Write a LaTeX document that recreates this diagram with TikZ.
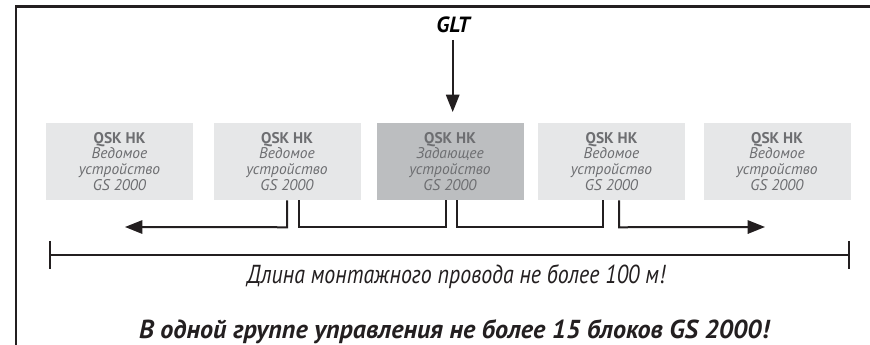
\documentclass[tikz,border=0pt]{standalone}
\usepackage{fontspec}
\usepackage{graphicx}
\setmainfont{PT Sans}
\usetikzlibrary{arrows.meta,calc}
\definecolor{framec}{HTML}{231F20}
\definecolor{slavefill}{HTML}{E6E7E8}
\definecolor{masterfill}{HTML}{BCBEC0}
\definecolor{boxtext}{HTML}{6D6E71}
\newcommand\myfitw[2]{\sbox0{#2}\pgfmathsetmacro\myfac{#1/\the\wd0}\scalebox{\myfac}[1]{\usebox0}}
\tikzset{
  unitbox/.style={minimum width=110.25pt, minimum height=57.75pt, inner sep=0pt,
    align=center, text=boxtext, font=\fontsize{11.6}{11.9}\selectfont},
  slave/.style={unitbox, fill=slavefill},
  master/.style={unitbox, fill=masterfill},
  wire/.style={line width=1.5pt, draw=framec},
  arr/.style={wire, -{Triangle[length=13pt,width=10pt]}},
  framel/.style={line width=1.8pt, draw=framec}
}
\begin{document}
\begin{tikzpicture}[x=0.75pt,y=-0.75pt]
\useasboundingbox (0,0) rectangle (870,345);
% frame
\coordinate (ftr) at (870,6.5);
\coordinate (ftl) at (15.8,6.5);
\coordinate (fbl) at (15.8,345);
\draw[framel] (ftr) -- (ftl) -- (fbl);
% boxes
\node[slave]  (b1) at (119.5,161.5) {\textbf{QSK HK}\\\textit{Ведомое}\\\textit{устройство}\\\textit{GS 2000}};
\node[slave]  (b2) at (287,161.5)   {\textbf{QSK HK}\\\textit{Ведомое}\\\textit{устройство}\\\textit{GS 2000}};
\node[master] (b3) at (450,161.5)   {\textbf{QSK HK}\\\textit{Задающее}\\\textit{устройство}\\\textit{GS 2000}};
\node[slave]  (b4) at (611.5,161.5) {\textbf{QSK HK}\\\textit{Ведомое}\\\textit{устройство}\\\textit{GS 2000}};
\node[slave]  (b5) at (777,161.5)   {\textbf{QSK HK}\\\textit{Ведомое}\\\textit{устройство}\\\textit{GS 2000}};
% GLT
\node[inner sep=0pt, font=\fontsize{16.5}{18}\selectfont\bfseries\itshape, anchor=base] (glt) at (453,33) {GLT};
\coordinate (gtop) at (452.7,40);
\draw[arr, shorten >=8pt] (gtop) -- (gtop |- b3.north);
% bus connectors
\coordinate (la) at (125,227);
\coordinate (ra) at (765,227);
\draw[arr] ($(b2.south)+(0,0)$) -- ++(0,27) -- (la);
\draw[wire] ($(b2.south)+(12,0)$) |- ($(b3.south)+(-4,27)$) -- ($(b3.south)+(-4,0)$);
\draw[wire] ($(b3.south)+(7,0)$) |- ($(b4.south)+(-8.5,27)$) -- ($(b4.south)+(-8.5,0)$);
\draw[arr] ($(b4.south)+(7.5,0)$) -- ++(0,27) -- (ra);
% dimension line
\coordinate (dl) at (50,255);
\coordinate (dr) at (849,255);
\draw[wire] (dl) -- (dr);
\draw[line width=1.7pt, draw=framec] ($(dl)+(0,-14)$) -- ($(dl)+(0,14)$);
\draw[line width=1.7pt, draw=framec] ($(dr)+(0,-14)$) -- ($(dr)+(0,14)$);
\node[inner sep=0pt, anchor=base, text=framec] (dimtxt) at (456,283)
  {\myfitw{313.5pt}{\fontsize{19.5}{21}\selectfont\itshape Длина монтажного провода не более 100 м!}};
\node[inner sep=0pt, anchor=base, text=framec] (note) at (454,338)
  {\myfitw{472.5pt}{\fontsize{19.5}{22}\selectfont\bfseries\itshape В одной группе управления не более 15 блоков GS 2000!}};
\end{tikzpicture}
\end{document}
